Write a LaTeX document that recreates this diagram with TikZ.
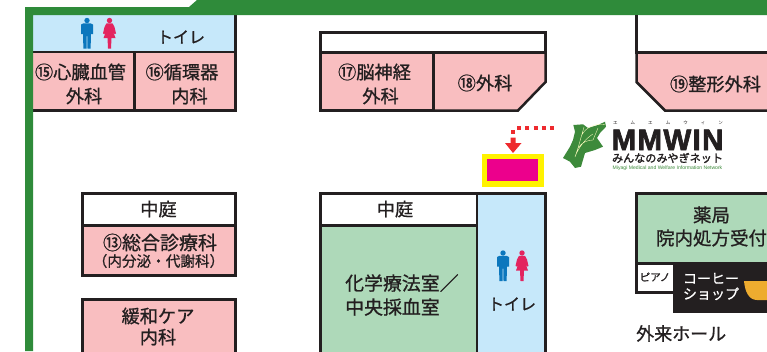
\documentclass[tikz,border=0pt]{standalone}
\usepackage{fontspec}
\setmainfont{Noto Sans CJK JP}[FakeBold=0.9]
\newfontfamily\latinbold{Liberation Sans}[UprightFont=* Bold,FakeBold=2.2]
\newfontfamily\latinplain{Liberation Sans}
\newfontfamily\cjkbold{Noto Sans CJK JP}[FakeBold=1.8]
\newfontfamily\cjkplain{Noto Sans CJK JP}
\definecolor{framegreen}{HTML}{2F8B3A}
\definecolor{roompink}{HTML}{F9BEC0}
\definecolor{roomblue}{HTML}{C6E8FA}
\definecolor{roommint}{HTML}{AED9B9}
\definecolor{wall}{HTML}{231F20}
\definecolor{manblue}{HTML}{0B77BD}
\definecolor{womanred}{HTML}{E3245F}
\definecolor{cup}{HTML}{EEAC2F}
\definecolor{mapgreen}{HTML}{3D8A3B}
\definecolor{markred}{HTML}{EE2A2E}
\definecolor{markmagenta}{HTML}{EC008C}
\definecolor{markyellow}{HTML}{FFF200}
\tikzset{
  wallline/.style={draw=wall,line width=2.5pt,line join=miter},
  pinkroom/.style={wallline,fill=roompink},
  whiteroom/.style={wallline,fill=white},
  blueroom/.style={wallline,fill=roomblue},
  mintroom/.style={wallline,fill=roommint},
  roomtext/.style={text=wall,align=center,font=\fontsize{18.2}{24}\selectfont,inner sep=0pt},
  toilettext/.style={text=wall,inner sep=0pt,font=\fontsize{16}{18}\selectfont},
}
\newcommand{\manicon}[2]{%
  \fill[manblue] (#1,#2-12.5) circle (2.7);
  \fill[manblue] (#1-6,#2-8.5) -- (#1-3.5,#2-9.7) -- (#1+3.5,#2-9.7) -- (#1+6,#2-8.5) -- (#1+6,#2+1) -- (#1+4,#2+1) -- (#1+3.6,#2+15.5) -- (#1+.5,#2+15.5) -- (#1+.3,#2+3) -- (#1-.3,#2+3) -- (#1-.5,#2+15.5) -- (#1-3.6,#2+15.5) -- (#1-4,#2+1) -- (#1-6,#2+1) -- cycle;}
\newcommand{\womanicon}[2]{%
  \fill[womanred] (#1,#2-12.5) circle (2.7);
  \fill[womanred] (#1-3,#2-9.7) -- (#1+3,#2-9.7) -- (#1+5,#2-6) -- (#1+6.5,#2+.5) -- (#1+5,#2+1) -- (#1+3,#2-3) -- (#1+6,#2+5) -- (#1+2,#2+5) -- (#1+1.5,#2+15.5) -- (#1-1.5,#2+15.5) -- (#1-2,#2+5) -- (#1-6,#2+5) -- (#1-3,#2-3) -- (#1-5,#2+1) -- (#1-6.5,#2+.5) -- (#1-5,#2-6) -- cycle;}
\begin{document}
\begin{tikzpicture}[x=1pt,y=-1pt]
\useasboundingbox (0,0) rectangle (767,351);
\fill[white] (0,0) rectangle (767,351);

% top-left block
\fill[roomblue] (33,15) rectangle (235.5,52);
\draw[wallline] (235.5,15) -- (235.5,52);
\draw[pinkroom] (32,52) rectangle (134.5,110.5);
\draw[pinkroom] (134.5,52) rectangle (235.5,110.5);
\manicon{87}{33}
\womanicon{109.5}{33}
\node[toilettext] (wc1) at (181,37) {トイレ};
\node[roomtext] (r15a) at (80.5,72) {⑮心臓血管};
\node[roomtext] (r15b) at (84,96) {外科};
\node[roomtext] (r16a) at (182,72) {⑯循環器};
\node[roomtext] (r16b) at (189.5,96) {内科};

% frame
\fill[framegreen] (25,7) -- (189,7) -- (197,0) -- (767,0) -- (767,15) -- (33,15) -- (33,351) -- (25,351) -- cycle;

% top centre
\draw[whiteroom] (320.5,32.5) rectangle (545.5,52.5);
\draw[pinkroom] (320.5,52.5) rectangle (433.5,110.5);
\draw[pinkroom] (433.5,52.5) -- (545.5,52.5) -- (545.5,82) -- (518,110.5) -- (433.5,110.5) -- cycle;
\node[roomtext] (r17a) at (374.5,72) {⑰脳神経};
\node[roomtext] (r17b) at (380.5,96) {外科};
\node[roomtext] (r18) at (485,83) {⑱外科};

% top right
\draw[whiteroom] (636.5,15) -- (636.5,52.5) -- (767,52.5);
\draw[pinkroom] (767,52.5) -- (636.5,52.5) -- (636.5,82) -- (665,110.5) -- (767,110.5);
\node[roomtext] (r19) at (715.5,84) {⑲整形外科};

% left middle
\draw[whiteroom] (82.5,193.5) rectangle (235.5,225.5);
\draw[pinkroom] (82.5,225.5) rectangle (235.5,275.5);
\node[roomtext] (c1) at (158.5,209) {中庭};
\node[roomtext,font=\fontsize{19}{22}\selectfont] (r13a) at (160,242.5) {⑬総合診療科};
\node[roomtext,font=\fontsize{14.6}{18}\selectfont] (r13b) at (158.5,261) {（内分泌・代謝科）};
\draw[pinkroom] (82.5,299.5) -- (235.5,299.5) -- (235.5,360) -- (82.5,360) -- cycle;
\node[roomtext,font=\fontsize{18.2}{21}\selectfont] (r14) at (158,326.5) {緩和ケア\\内科};

% centre
\draw[whiteroom] (320.5,193.5) rectangle (477,225.5);
\draw[mintroom] (320.5,225.5) rectangle (477,360);
\draw[blueroom] (477,193.5) rectangle (545.5,360);
\node[roomtext] (c2) at (395,209) {中庭};
\node[roomtext,align=left,anchor=west,font=\fontsize{18.9}{24}\selectfont] (chem) at (345,295) {化学療法室／\\中央採血室};
\manicon{503}{265.5}
\womanicon{522}{265.5}
\node[toilettext] (wc2) at (512,304) {トイレ};

% right
\draw[mintroom] (636.5,193.5) rectangle (780,263.5);
\draw[whiteroom] (636.5,263.5) rectangle (680,292.5);
\fill[wall] (673,263) rectangle (767,313);
\node[roomtext,font=\fontsize{18.5}{23}\selectfont] (ph) at (711.5,226.5) {薬局\\院内処方受付};
\node[inner sep=0pt,text=wall,font=\fontsize{10.5}{14}\selectfont] (piano) at (655,277) {ピアノ};
\node[inner sep=0pt,align=left,text=white,font=\fontsize{14}{15.5}\selectfont] (coffee) at (711,286.5) {コーヒー\\ショップ};
\fill[cup] (744,281) -- (767,281) -- (767,300) -- (757,300) .. controls (749,300) and (745,292) .. (744,281) -- cycle;
\node[anchor=west,inner sep=0pt,text=wall,font=\fontsize{18}{20}\selectfont] (hall) at (636,333.5) {外来ホール};

% marker
\fill[markyellow] (482,154) rectangle (544,187);
\fill[markmagenta] (487,159) rectangle (538,181);
\coordinate (dotstart) at (517,127.7);
\coordinate (dotend) at (558,127.7);
\draw[markred,line width=3.8pt,dash pattern=on 4pt off 4.3pt] (dotstart) -- (dotend);
\fill[markred] (511,133.5) -- (511,130) -- (514.5,130) -- (514.5,133.5) -- cycle;
\fill[markred] (510.5,137.5) -- (515.5,137.5) -- (515.5,143) -- (521.5,143) -- (513,153) -- (505,143) -- (510.5,143) -- cycle;

% logo
\fill[mapgreen] (573.3,125) -- (583,124.3) -- (588,128) -- (598,125) -- (605,121.7) -- (606,126.7) -- (600,133) -- (597,138) -- (603,146.7) -- (595,150) -- (585,153) -- (581,166.7) -- (575,168) -- (570,161.7) -- (563,158) -- (570,146.7) -- (573,140) -- (575,131.7) -- cycle;
\draw[markyellow!25!white,line width=.35pt] (575,157) -- (578,148) -- (581.7,135) .. controls (586,127) and (596,123) .. (605,124.5) (578,148) .. controls (582,142) and (588,140) .. (593,140) -- (598,128) (581.7,135) -- (584,127) (575,157) .. controls (578,148) and (586,138) .. (593,134);
\node[inner sep=0pt,text=wall,font=\cjkplain\fontsize{4.5}{5}\selectfont\addfontfeature{LetterSpace=290}] (kana) at (668,122.5) {エムエムウィン};
\node[inner sep=0pt,text=wall,text height=21pt,text depth=0pt,font=\latinbold\fontsize{29.5}{30}\selectfont\addfontfeature{LetterSpace=4.5}] (mm) at (667.5,139.5) {MMWIN};
\node[inner sep=0pt,text=wall,text height=9pt,text depth=1.5pt,font=\cjkbold\fontsize{11.1}{13}\selectfont] (minna) at (667.5,158.5) {みんなのみやぎネット};
\node[inner sep=0pt,text=mapgreen,font=\latinplain\fontsize{5.1}{6}\selectfont] (net) at (667.5,168) {Miyagi Medical and Welfare Information Network};
\end{tikzpicture}
\end{document}
